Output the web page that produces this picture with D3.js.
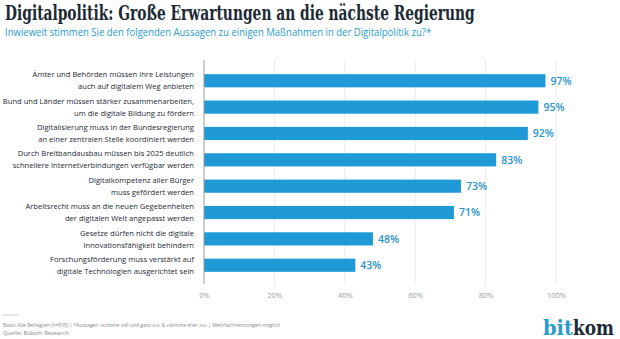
<!DOCTYPE html>
<html>
<head>
<meta charset="utf-8">
<script src="https://cdn.jsdelivr.net/npm/d3@7.9.0/dist/d3.min.js"></script>
<style>
  html, body { margin: 0; padding: 0; background: #fff; }
  svg { display: block; }
</style>
</head>
<body>
<div id="chart"></div>
<script>
const title = "Digitalpolitik: Große Erwartungen an die nächste Regierung";
const subtitle = "Inwieweit stimmen Sie den folgenden Aussagen zu einigen Maßnahmen in der Digitalpolitik zu?*";

const statements = [
  ["Ämter und Behörden müssen ihre Leistungen", "auch auf digitalem Weg anbieten"],
  ["Bund und Länder müssen stärker zusammenarbeiten,", "um die digitale Bildung zu fördern"],
  ["Digitalisierung muss in der Bundesregierung", "an einer zentralen Stelle koordiniert werden"],
  ["Durch Breitbandausbau müssen bis 2025 deutlich", "schnellere Internetverbindungen verfügbar werden"],
  ["Digitalkompetenz aller Bürger", "muss gefördert werden"],
  ["Arbeitsrecht muss an die neuen Gegebenheiten", "der digitalen Welt angepasst werden"],
  ["Gesetze dürfen nicht die digitale", "Innovationsfähigkeit behindern"],
  ["Forschungsförderung muss verstärkt auf", "digitale Technologien ausgerichtet sein"]
];
const shares = [97, 95, 92, 83, 73, 71, 48, 43];
const xTicks = [0, 20, 40, 60, 80, 100];

const footnote = "Basis: Alle Befragten (n=505) | *Aussagen »stimme voll und ganz zu« & »stimme eher zu« | Mehrfachnennungen möglich";
const source = "Quelle: Bitkom Research";

const W = 620, H = 339;
const blue = "#1f9ad6";
const dark = "#1c2a35";
const sans = "'Open Sans', 'Noto Sans', sans-serif";
const serif = "'DejaVu Serif', 'Liberation Serif', serif";

const svg = d3.select("#chart").append("svg")
  .attr("width", W).attr("height", H);

// text squeezed horizontally (via a group transform) to span width w
function squeezedText(parent, x0, y0, w, str, style) {
  const g = parent.append("g");
  const t = g.append("text").text(str);
  Object.entries(style).forEach(([k, v]) => t.style(k, v));
  const len = t.node().getComputedTextLength();
  const sx = len > 0 ? Math.min(1, w / len) : 1;
  g.attr("transform", `translate(${x0},${y0}) scale(${sx},1)`);
  return t;
}

squeezedText(svg, 5, 20, 470, title, {
  "font-family": serif, "font-weight": "bold", "font-size": "19.5px", "fill": dark
});

squeezedText(svg, 5, 36, 427, subtitle, {
  "font-family": sans, "font-size": "10.5px", "fill": "#2a9ccb"
});

const x = d3.scaleLinear().domain([0, 100]).range([204, 556]);
const y = d3.scaleBand()
  .domain(d3.range(statements.length))
  .range([61, 285])
  .padding(0.5);

// vertical gridlines
svg.append("g")
  .selectAll("line")
  .data(xTicks.slice(1))
  .join("line")
  .attr("x1", d => x(d)).attr("x2", d => x(d))
  .attr("y1", 60).attr("y2", 285)
  .attr("stroke", "#ececec")
  .attr("stroke-width", 1);

// x axis labels
const xAxis = svg.append("g")
  .attr("transform", "translate(0,285)")
  .call(d3.axisBottom(x).tickValues(xTicks).tickFormat(d => d + "%").tickSize(0).tickPadding(8));
xAxis.select(".domain").remove();
xAxis.selectAll("text")
  .style("font-family", sans)
  .style("font-size", "7.5px")
  .style("fill", "#9a9a9a");

// bars
svg.append("g")
  .selectAll("rect")
  .data(shares)
  .join("rect")
  .attr("x", x(0))
  .attr("y", (d, i) => y(i))
  .attr("width", d => x(d) - x(0))
  .attr("height", y.bandwidth())
  .attr("fill", blue);

// value labels
svg.append("g")
  .selectAll("text")
  .data(shares)
  .join("text")
  .attr("x", d => x(d) + 5)
  .attr("y", (d, i) => y(i) + y.bandwidth() / 2)
  .attr("dy", "0.36em")
  .style("font-family", sans)
  .style("font-weight", "600")
  .style("font-size", "10.5px")
  .style("fill", "#2a93c8")
  .text(d => d + "%");

// baseline
svg.append("line")
  .attr("x1", x(0)).attr("x2", x(0))
  .attr("y1", 60).attr("y2", 284)
  .attr("stroke", "#9a9a9a")
  .attr("stroke-width", 1);

// category labels, two lines each
const labels = svg.append("g")
  .selectAll("text")
  .data(statements)
  .join("text")
  .attr("text-anchor", "end")
  .style("font-family", sans)
  .style("font-size", "7.6px")
  .style("fill", dark);
labels.selectAll("tspan")
  .data((d, i) => d.map((line, k) => ({ line, k, i })))
  .join("tspan")
  .attr("x", 194)
  .attr("y", d => y(d.i) + y.bandwidth() / 2 + (d.k === 0 ? -6 : 6))
  .attr("dy", "0.35em")
  .text(d => d.line);

// footer
svg.append("line")
  .attr("x1", 3).attr("x2", 19)
  .attr("y1", 315).attr("y2", 315)
  .attr("stroke", "#aaa").attr("stroke-width", 0.6);

squeezedText(svg, 3, 327, 278, footnote, {
  "font-family": sans, "font-size": "5.8px", "fill": "#888"
});

svg.append("text")
  .attr("x", 3).attr("y", 335)
  .style("font-family", sans)
  .style("font-size", "5.8px")
  .style("fill", "#888")
  .text(source);

// logo wordmark
const logo = svg.append("g");
const logoStyle = { "font-family": serif, "font-weight": "bold", "font-size": "21px" };
const bit = squeezedText(logo, 543, 335, 30, "bit", Object.assign({ "fill": "#2a9ccb" }, logoStyle));
squeezedText(logo, 573, 335, 41, "kom", Object.assign({ "fill": dark }, logoStyle));
</script>
</body>
</html>
